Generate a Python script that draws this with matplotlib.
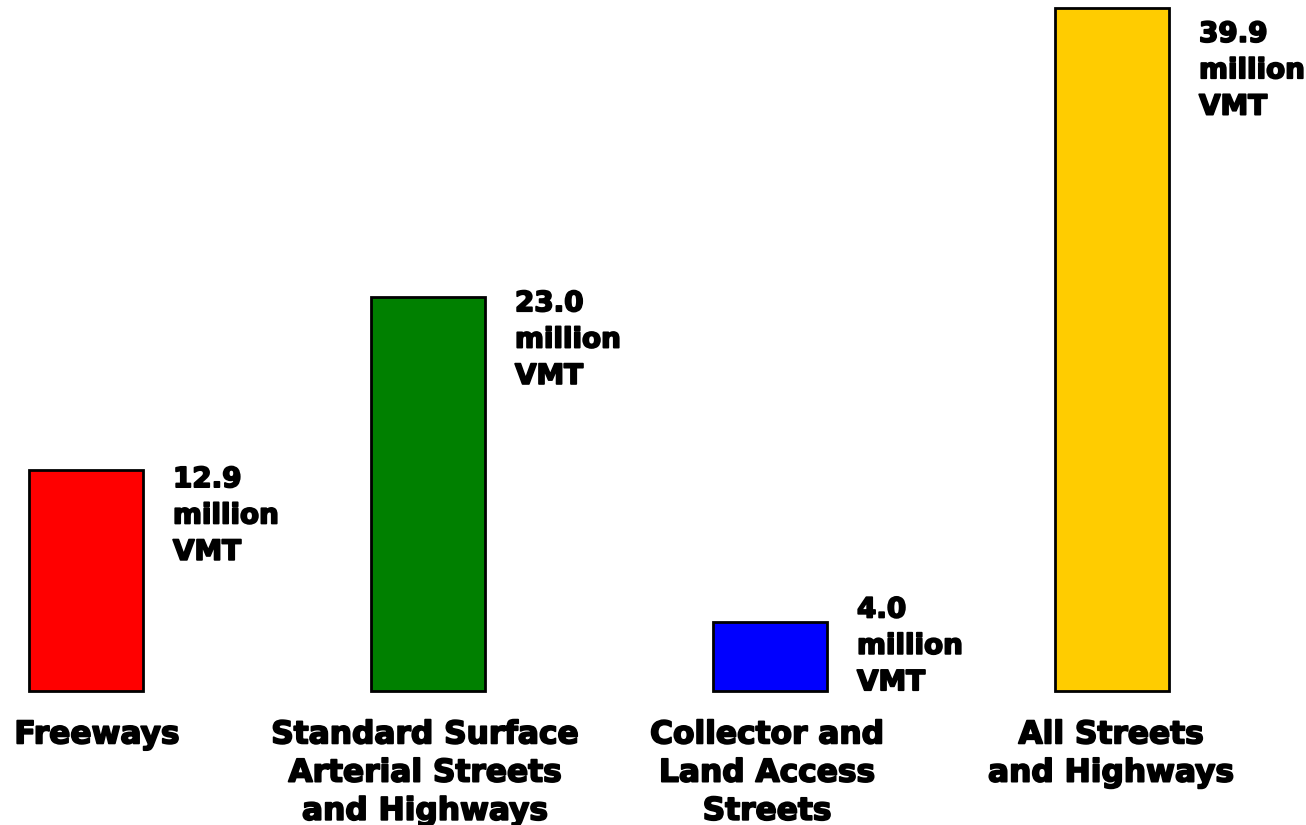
import matplotlib.pyplot as plt
import matplotlib.patheffects as pe
import numpy as np

plt.rcParams["font.family"] = ["DejaVu Sans"]

categories = [
    "Freeways",
    "Standard Surface\nArterial Streets\nand Highways",
    "Collector and\nLand Access\nStreets",
    "All Streets\nand Highways",
]
vmt_millions = [12.9, 23.0, 4.0, 39.9]
bar_colors = ["#FF0000", "#008000", "#0000FF", "#FFCC00"]

# vertical nudge (pixels) for each value label relative to its bar top
label_nudge = [5, 8, 27, -12]
# horizontal nudge (pixels) for the category names
name_shift = [11, -3, -3, -1]

heavy = [pe.withStroke(linewidth=1.3, foreground="black")]

fig = plt.figure(figsize=(13.06, 8.25), dpi=100)
ax = fig.add_axes([0, 0, 1, 1])

x = np.arange(len(categories))
width = 0.333
ax.bar(x, vmt_millions, width=width, color=bar_colors,
       edgecolor="black", linewidth=2)

for xi, v, dy in zip(x, vmt_millions, label_nudge):
    ax.annotate(f"{v:.1f}\nmillion\nVMT", xy=(xi + width / 2, v),
                xytext=(30 * 0.72, dy * 0.72), textcoords="offset points",
                ha="left", va="top", fontsize=20, fontweight="bold",
                linespacing=1.38, path_effects=heavy)

for xi, name, sx in zip(x, categories, name_shift):
    ax.annotate(name, xy=(xi, -1.72), xytext=(sx * 0.72, 0),
                textcoords="offset points", ha="center", va="top",
                fontsize=22.5, fontweight="bold", linespacing=1.4,
                path_effects=heavy)

ax.set_xlim(-0.2515, 3.567)
ax.set_ylim(-7.83, 40.36)
ax.axis("off")

fig.savefig("out.png", dpi=100)
